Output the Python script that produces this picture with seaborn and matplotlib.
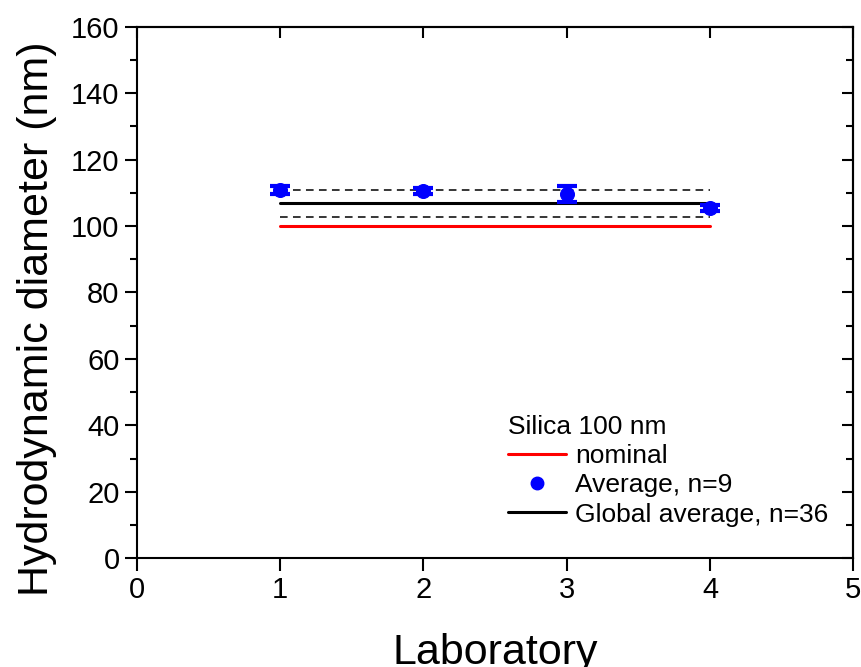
import seaborn as sns
import pandas as pd
import numpy as np
import matplotlib.pyplot as plt
from matplotlib.lines import Line2D
from matplotlib.ticker import MultipleLocator

# data
labs = [1, 2, 3, 4]
lab_avg = [110.8, 110.5, 109.6, 105.4]
lab_err = [1.2, 1.0, 2.4, 1.0]
line_x = [1, 4]
nominal = [100, 100]
global_avg = [106.8, 106.8]
global_hi = [110.8, 110.8]
global_lo = [102.8, 102.8]

sns.set_style("ticks")
plt.rcParams['font.family'] = ['Liberation Sans', 'DejaVu Sans']
plt.rcParams['text.color'] = 'black'
plt.rcParams['axes.labelcolor'] = 'black'
plt.rcParams['xtick.color'] = 'black'
plt.rcParams['ytick.color'] = 'black'

fig = plt.figure(figsize=(8.61, 6.67), dpi=100)
ax = fig.add_axes([0.159, 0.163, 0.832, 0.797])

sns.lineplot(x=line_x, y=nominal, ax=ax, color='red', linewidth=2.2)
sns.lineplot(x=line_x, y=global_avg, ax=ax, color='black', linewidth=2.2)
sns.lineplot(x=line_x, y=global_hi, ax=ax, color='black', linewidth=1.1, linestyle=(0, (5, 3.5)))
sns.lineplot(x=line_x, y=global_lo, ax=ax, color='black', linewidth=1.1, linestyle=(0, (5, 3.5)))

ax.errorbar(labs, lab_avg, yerr=lab_err, fmt='none', ecolor='blue',
            elinewidth=2.5, capsize=7, capthick=3, zorder=3)
sns.scatterplot(x=labs, y=lab_avg, ax=ax, color='blue', s=100,
                edgecolor='blue', zorder=4)

ax.set_xlim(0, 5)
ax.set_ylim(0, 160)
ax.xaxis.set_major_locator(MultipleLocator(1))
ax.yaxis.set_major_locator(MultipleLocator(20))
ax.yaxis.set_minor_locator(MultipleLocator(10))

for side in ['left', 'bottom', 'top', 'right']:
    ax.spines[side].set_visible(True)
    ax.spines[side].set_linewidth(1.5)
    ax.spines[side].set_color('black')
ax.tick_params(axis='both', which='major', direction='out', length=9, width=1.5,
               labelsize=21, color='black', labelcolor='black')
ax.tick_params(axis='y', which='minor', direction='out', length=5, width=1.5)

top = ax.secondary_xaxis('top')
top.xaxis.set_major_locator(MultipleLocator(1))
top.tick_params(direction='in', length=8, width=1.5, labeltop=False)
top.spines['top'].set_linewidth(1.5)
right = ax.secondary_yaxis('right')
right.yaxis.set_major_locator(MultipleLocator(20))
right.yaxis.set_minor_locator(MultipleLocator(10))
right.tick_params(which='major', direction='in', length=8, width=1.5, labelright=False)
right.tick_params(which='minor', direction='in', length=5, width=1.5)
right.spines['right'].set_linewidth(1.5)

ax.set_xlabel('Laboratory', fontsize=31)
ax.set_ylabel('Hydrodynamic diameter (nm)', fontsize=31)
ax.xaxis.set_label_coords(0.5, -0.141)
ax.yaxis.set_label_coords(-0.112, 0.45)

handles = [
    Line2D([], [], color='red', linewidth=2.2),
    Line2D([], [], color='blue', marker='o', linestyle='none', markersize=9),
    Line2D([], [], color='black', linewidth=2.2),
]
labels = ['nominal', 'Average, n=9', 'Global average, n=36']
leg = ax.legend(handles, labels, title='Silica 100 nm', loc='upper left',
                bbox_to_anchor=(0.503, 0.29), frameon=False, fontsize=19,
                title_fontsize=19, handlelength=2.2, handletextpad=0.35,
                labelspacing=0.2, borderaxespad=0)
leg._legend_box.align = 'left'

fig.savefig('out.png', dpi=100)
